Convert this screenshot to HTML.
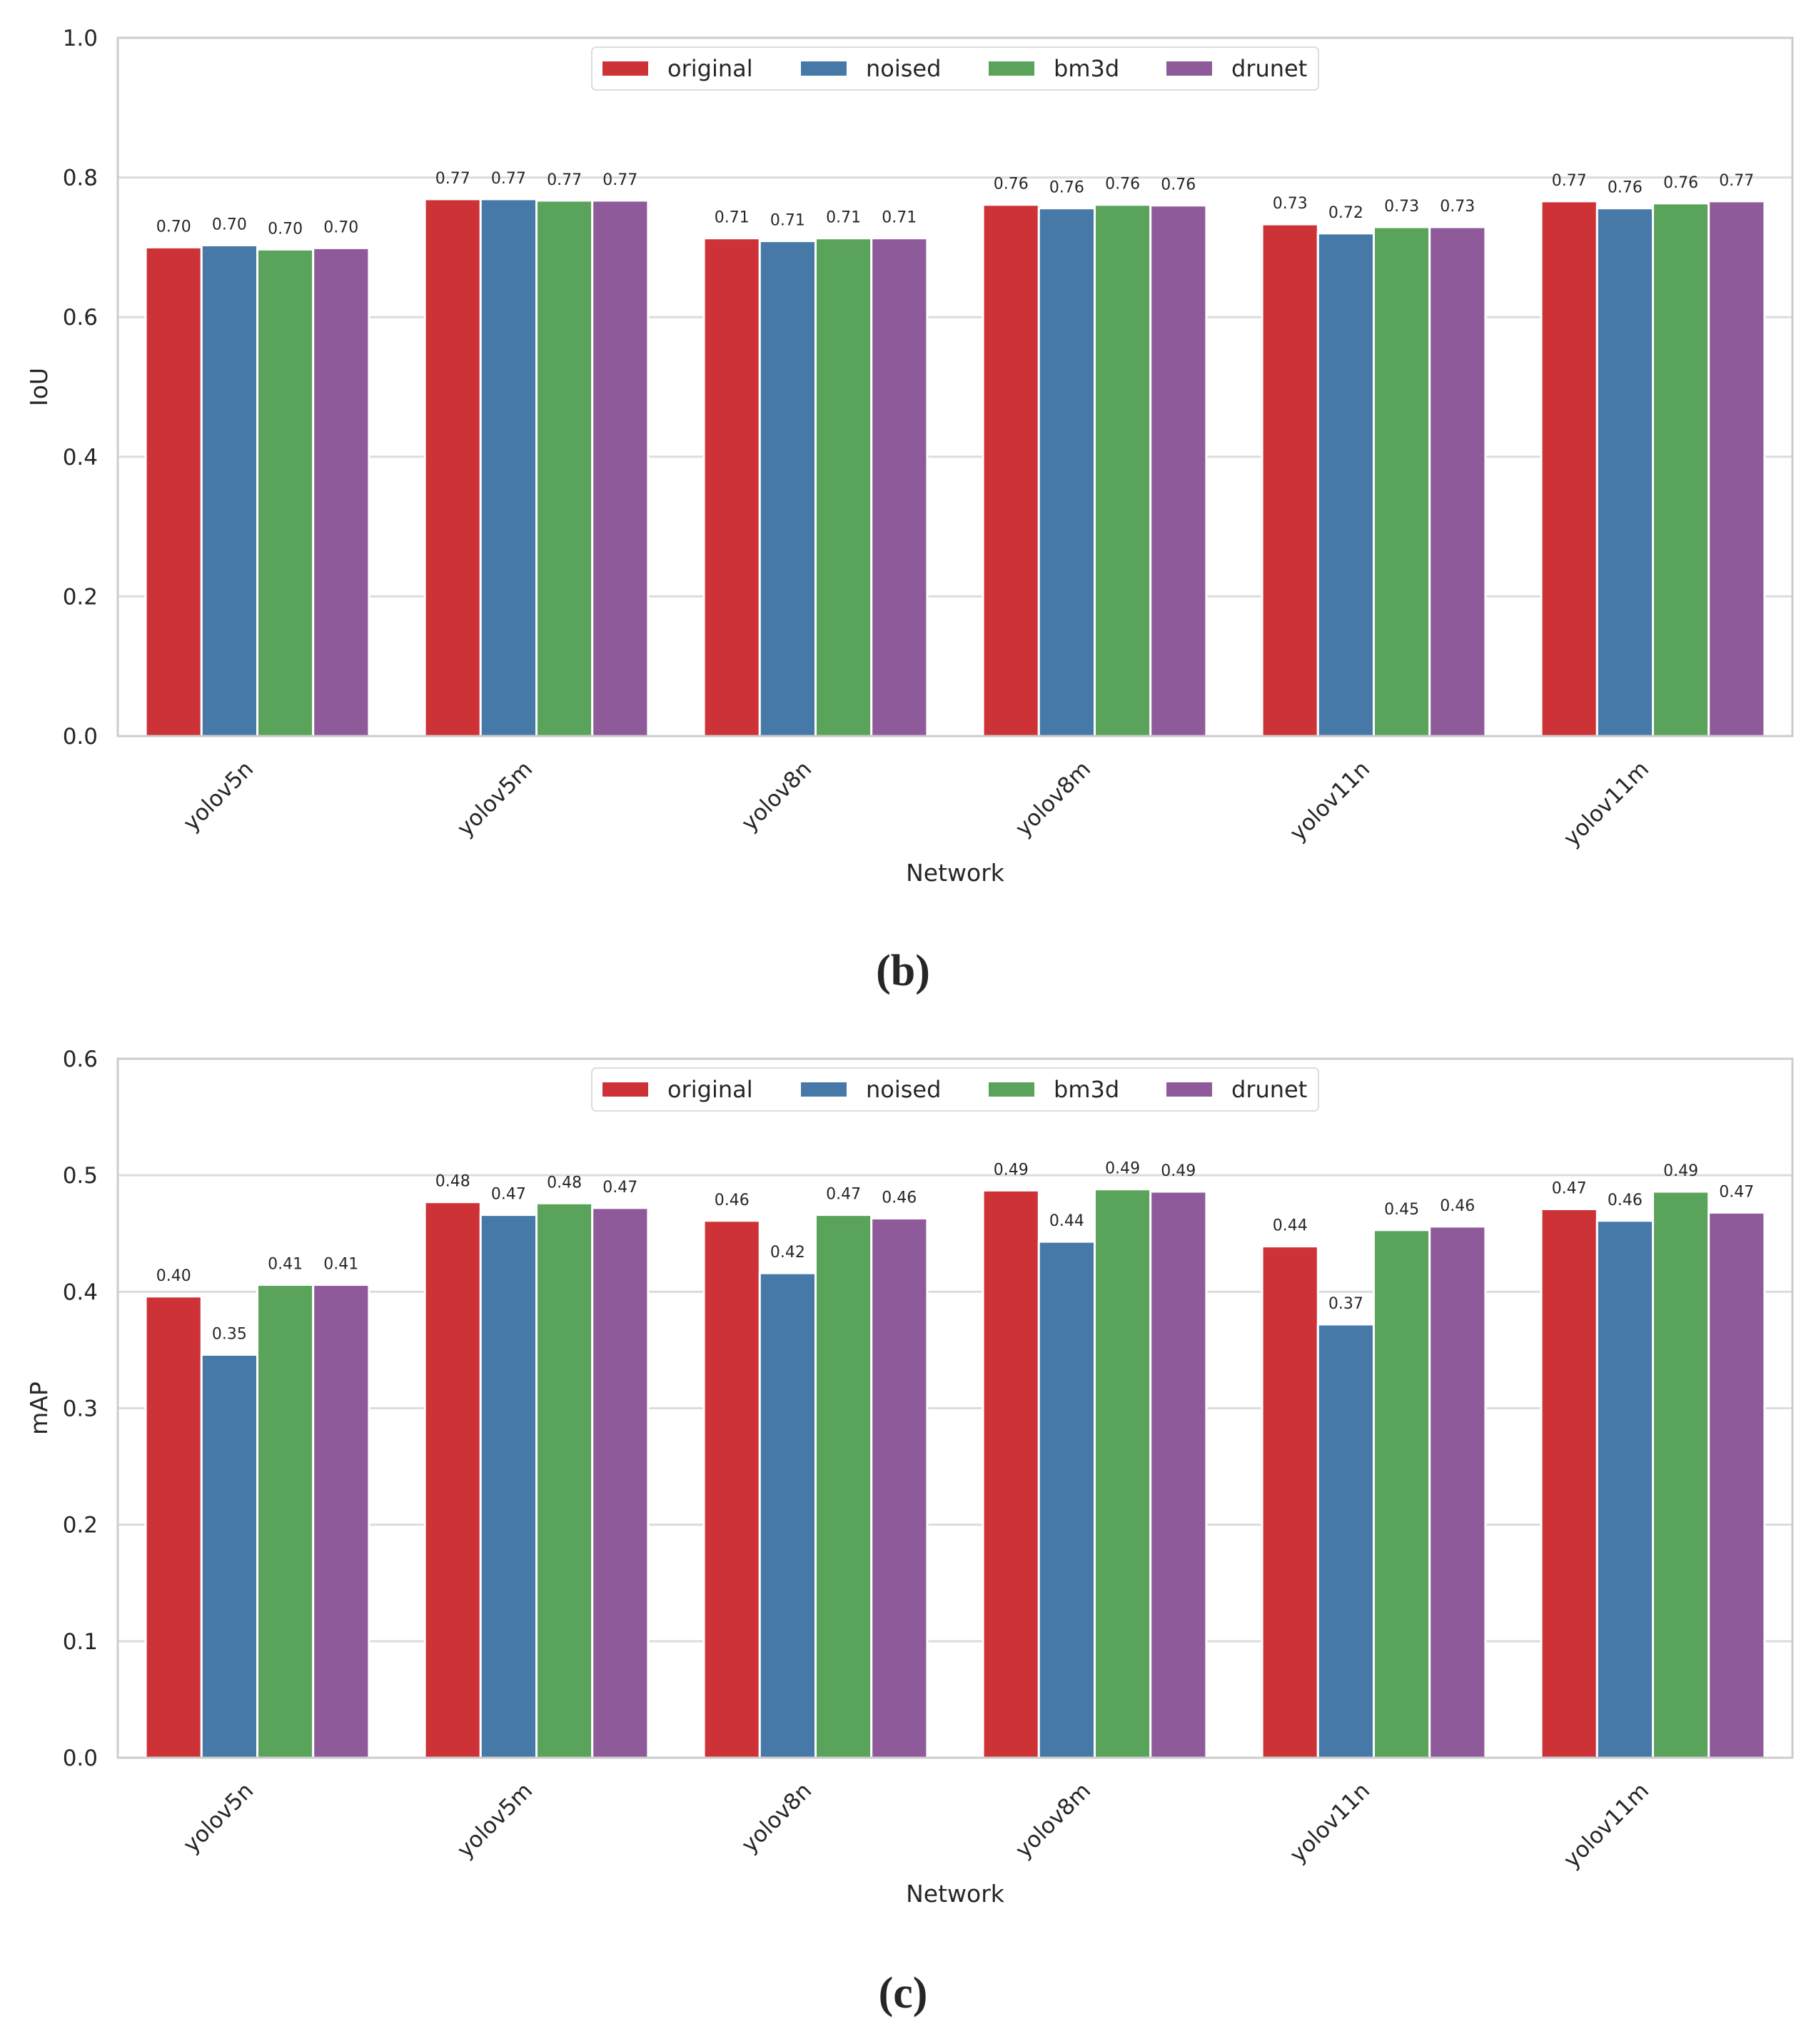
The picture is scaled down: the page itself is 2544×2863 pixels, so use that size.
<!DOCTYPE html>
<html><head><meta charset="utf-8"><style>
html,body{margin:0;padding:0;background:#fff;}
svg{display:block;}
text{font-family:"DejaVu Sans","Liberation Sans",sans-serif;fill:#262626;}
</style></head><body>
<svg id="fig" width="2544" height="2863" viewBox="0 0 2544 2863" xmlns="http://www.w3.org/2000/svg"></svg>
<script>
const categories = ["yolov5n","yolov5m","yolov8n","yolov8m","yolov11n","yolov11m"];
const seriesNames = ["original","noised","bm3d","drunet"];
const iouOriginal = [0.700,0.769,0.713,0.761,0.733,0.766];
const iouNoised   = [0.703,0.769,0.709,0.756,0.720,0.756];
const iouBm3d     = [0.697,0.767,0.713,0.761,0.729,0.763];
const iouDrunet   = [0.699,0.767,0.713,0.760,0.729,0.766];
const mapOriginal = [0.396,0.477,0.461,0.487,0.439,0.471];
const mapNoised   = [0.346,0.466,0.416,0.443,0.372,0.461];
const mapBm3d     = [0.406,0.476,0.466,0.488,0.453,0.486];
const mapDrunet   = [0.406,0.472,0.463,0.486,0.456,0.468];
const iouTicks = ["0.0","0.2","0.4","0.6","0.8","1.0"];
const mapTicks = ["0.0","0.1","0.2","0.3","0.4","0.5","0.6"];
const colors = ["#cd3236","#4679a8","#5aa35a","#8f5a99"];
const NS="http://www.w3.org/2000/svg";
const svg=document.getElementById('fig');
function el(tag,attrs,parent,txt){const e=document.createElementNS(NS,tag);for(const k in attrs)e.setAttribute(k,attrs[k]);if(txt!==undefined)e.textContent=txt;(parent||svg).appendChild(e);return e;}

function drawChart(cfg){
  const g=el('g',{});
  
  
  const L=165,R=2511,T=cfg.top,B=cfg.bottom;
  const ymax=parseFloat(cfg.ticks[cfg.ticks.length-1]);
  const y=v=>B-(v/ymax)*(B-T);
  const step=(R-L)/categories.length;
  const x=i=>L+step*(i+0.5);
  cfg.ticks.forEach(t=>{
    const v=parseFloat(t);
    const gl=el('line',{x1:L,x2:R,y1:y(v),y2:y(v),stroke:'#dcdcdc','stroke-width':3},g);
    
    
    const tl=el('text',{x:L-28,y:y(v)+11,'text-anchor':'end','font-size':31},g,t);
    
    
  });
  const bw=step*0.2;
  cfg.series.forEach((arr,s)=>{
    arr.forEach((v,i)=>{
      const bx=x(i)-step*0.4+s*bw;
      const r=el('rect',{x:bx,y:y(v),width:bw,height:B-y(v),fill:colors[s],stroke:'#fff','stroke-width':3},g);
      
      
      const lt=el('text',{x:bx+bw/2,y:y(v)-22,'text-anchor':'middle','font-size':22},g,v.toFixed(2));
      
      
    });
  });
  const sp=el('rect',{x:L,y:T,width:R-L,height:B-T,fill:'none',stroke:'#cccccc','stroke-width':3},g);
  
  
  categories.forEach((c,i)=>{
    const tx=x(i)-4,ty=B+48;
    const xl=el('text',{x:tx,y:ty,'text-anchor':'end','font-size':31,transform:'rotate(-45 '+tx+' '+ty+')'},g,c);
    
    
  });
  const xt=el('text',{x:1338,y:cfg.netY,'text-anchor':'middle','font-size':33},g,'Network');
  
  
  const yt=el('text',{x:0,y:0,'text-anchor':'middle','font-size':33,transform:'translate(66 '+((T+B)/2)+') rotate(-90)'},g,cfg.ylabel);
  
  
  const lg=el('g',{},g);
  
  
  el('rect',{x:829,y:T+13,width:1018,height:60,rx:6,fill:'#fff',stroke:'#dddddd','stroke-width':2},lg);
  const px=[844,1122,1385,1634];
  seriesNames.forEach((n,s)=>{
    const e=el('g',{},lg);
    
    
    el('rect',{x:px[s],y:T+33,width:64,height:20,fill:colors[s]},e);
    el('text',{x:px[s]+91,y:T+54,'font-size':32},e,n);
  });
  const cap=el('text',{x:1265,y:cfg.capY,'text-anchor':'middle','font-size':62,'font-weight':'bold',style:'font-family:"Liberation Serif",serif'},g,cfg.caption);
  
  
}
drawChart({name:'iou-chart',top:53,bottom:1031,ticks:iouTicks,series:[iouOriginal,iouNoised,iouBm3d,iouDrunet],ylabel:'IoU',netY:1234,capY:1380,caption:'(b)'});
drawChart({name:'map-chart',top:1483,bottom:2462,ticks:mapTicks,series:[mapOriginal,mapNoised,mapBm3d,mapDrunet],ylabel:'mAP',netY:2664,capY:2812,caption:'(c)'});
</script>
</body></html>
